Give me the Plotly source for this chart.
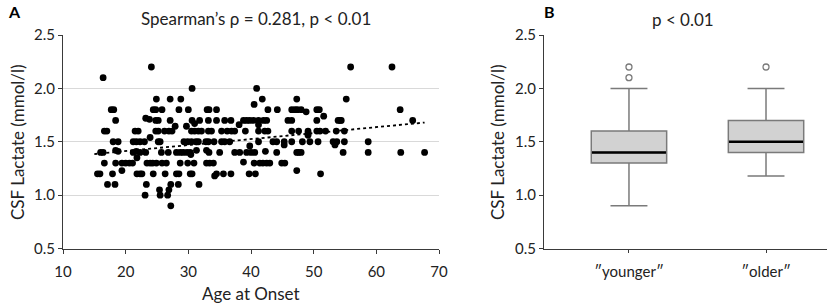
import plotly.graph_objects as go

# ---------------- Panel A data (age at onset vs CSF lactate) ----------------
rows = {
    2.2: [24.1, 55.9, 62.5],
    2.1: [16.4],
    2.0: [30.6, 40.9],
    1.9: [24.9, 27.1, 28.8, 41.8, 47.3, 55.2],
    1.85: [40.5],
    1.8: [17.7, 18.1, 24.4, 24.8, 25.8, 28.5, 30.0, 33.0, 33.3, 34.5, 42.7, 44.2,
          46.5, 47.0, 47.4, 48.0, 50.5, 50.9, 63.8],
    1.78: [48.8],
    1.74: [51.6],
    1.72: [23.2],
    1.71: [23.8],
    1.7: [18.4, 24.8, 25.2, 27.1, 30.6, 31.8, 33.2, 34.5, 35.8, 36.8, 38.8, 39.3,
          39.8, 40.4, 41.2, 42.0, 42.5, 45.9, 46.5, 50.5, 53.9, 54.2, 54.4, 65.8],
    1.67: [31.0],
    1.66: [38.1, 41.2],
    1.645: [27.9, 29.7],
    1.6: [16.6, 17.0, 21.5, 22.0, 24.8, 25.2, 26.2, 26.9, 27.4, 30.5, 31.0, 31.6,
          32.1, 33.2, 33.7, 35.3, 36.2, 36.9, 37.4, 39.1, 41.2, 42.2, 42.7, 46.5,
          47.6, 49.1, 50.5, 51.0, 51.9, 53.6, 54.9],
    1.58: [49.1],
    1.56: [49.1],
    1.54: [23.9],
    1.5: [18.0, 18.8, 21.2, 21.7, 22.3, 23.0, 25.2, 25.5, 29.3, 29.9, 30.5, 31.2,
          31.6, 32.8, 33.2, 34.1, 35.3, 35.8, 36.6, 41.2, 43.5, 44.1, 45.3, 46.5,
          48.2, 49.4, 50.7, 53.1, 53.7, 54.9, 58.7],
    1.47: [45.3, 53.4],
    1.46: [39.8],
    1.42: [18.4, 31.3, 32.9],
    1.41: [18.8, 21.7, 42.3],
    1.4: [16.0, 16.4, 21.2, 22.3, 23.2, 25.7, 26.8, 28.1, 28.7, 29.2, 29.8, 30.3,
          33.3, 35.0, 37.4, 38.2, 39.3, 40.0, 40.6, 44.1, 47.3, 47.6, 48.0, 54.7,
          58.7, 63.9, 67.7],
    1.38: [30.4],
    1.35: [21.8],
    1.31: [38.8],
    1.3: [16.6, 18.4, 19.4, 20.0, 20.6, 21.1, 23.4, 23.9, 24.3, 24.9, 25.8, 26.5,
          28.7, 29.9, 30.9, 32.9, 33.4, 34.0, 40.5, 41.4, 41.9, 42.5, 43.0, 44.9, 45.4],
    1.23: [19.4, 47.3],
    1.2: [15.5, 15.9, 17.9, 21.8, 22.3, 22.6, 24.4, 26.3, 28.1, 28.5, 30.3, 30.6,
          34.5, 35.6, 36.8, 39.7, 40.7, 51.1],
    1.18: [34.2],
    1.1: [17.1, 18.3, 23.3, 27.2, 28.4, 31.7],
    1.05: [25.4, 26.9],
    1.0: [23.1, 25.5, 26.7],
    0.9: [27.2],
}
age_at_onset = [a for v, ages in rows.items() for a in ages]
csf_lactate = [v for v, ages in rows.items() for a in ages]

trend_age = [15.0, 67.7]
trend_lactate = [1.385, 1.68]

# ---------------- Panel B data (box plot) ----------------
groups = ["\u2033younger\u2033", "\u2033older\u2033"]
group_pos = [0, 1]
q1 = [1.3, 1.4]
median = [1.4, 1.5]
q3 = [1.6, 1.7]
lower_fence = [0.9, 1.18]
upper_fence = [2.0, 2.0]
outlier_group = [0, 0, 1]
outlier_values = [2.1, 2.2, 2.2]
box_width = 0.55

y_ticks = [0.5, 1.0, 1.5, 2.0, 2.5]
x_ticks_a = [10, 20, 30, 40, 50, 60, 70]

FONT = "Lato"
AXC = "#3a3a3a"
TXT = "#222"

fig = go.Figure()

fig.add_trace(go.Scatter(
    x=age_at_onset, y=csf_lactate, mode="markers",
    marker=dict(color="black", size=6.8),
    xaxis="x", yaxis="y", showlegend=False, hoverinfo="skip"))

fig.add_trace(go.Scatter(
    x=trend_age, y=trend_lactate, mode="lines",
    line=dict(color="black", width=1.8, dash="dot"),
    xaxis="x", yaxis="y", showlegend=False, hoverinfo="skip"))

fig.add_trace(go.Box(
    x=group_pos, q1=q1, median=median, q3=q3,
    lowerfence=lower_fence, upperfence=upper_fence,
    width=box_width, whiskerwidth=0.49,
    fillcolor="#d2d2d2", line=dict(color="#7a7a7a", width=1.5),
    boxpoints=False, xaxis="x2", yaxis="y2", showlegend=False, hoverinfo="skip"))

for p, m in zip(group_pos, median):
    fig.add_trace(go.Scatter(
        x=[p - box_width / 2 + 0.005, p + box_width / 2 - 0.005], y=[m, m],
        mode="lines", line=dict(color="black", width=2.5),
        xaxis="x2", yaxis="y2", showlegend=False, hoverinfo="skip"))

fig.add_trace(go.Scatter(
    x=outlier_group, y=outlier_values, mode="markers",
    marker=dict(symbol="circle-open", color="#7a7a7a", size=6, line=dict(width=1.3)),
    xaxis="x2", yaxis="y2", showlegend=False, hoverinfo="skip"))

W, H = 829, 305
ydom = [(H - 248.5) / H, (H - 35) / H]

common_y = dict(range=[0.5, 2.5], tickvals=y_ticks, ticktext=[f"{t:.1f}" for t in y_ticks],
                showline=True, linecolor=AXC, linewidth=1, ticks="outside", ticklen=4,
                tickcolor=AXC, tickfont=dict(family=FONT, size=15, color=TXT),
                zeroline=False, domain=ydom, automargin=False)


def ann(text, x, y, size=17, bold=False, angle=0):
    return dict(text=f"<b>{text}</b>" if bold else text, x=x / W, y=1 - y / H,
                xref="paper", yref="paper", xanchor="center", yanchor="middle",
                showarrow=False, textangle=angle,
                font=dict(family=FONT, size=size, color="black" if bold else TXT))


fig.update_layout(
    width=W, height=H, margin=dict(l=0, r=0, t=0, b=0, autoexpand=False),
    paper_bgcolor="white", plot_bgcolor="white",
    font=dict(family=FONT, color=TXT),
    xaxis=dict(domain=[63 / W, 439 / W], range=[10, 70], tickvals=x_ticks_a,
               showline=True, linecolor=AXC, linewidth=1, ticks="outside", ticklen=4,
               tickcolor=AXC, showgrid=False, zeroline=False, ticklabelstandoff=5,
               automargin=False,
               tickfont=dict(family=FONT, size=15, color=TXT), anchor="y"),
    yaxis=dict(**common_y, showgrid=True, gridcolor="#d9d9d9", gridwidth=1.2, anchor="x"),
    xaxis2=dict(domain=[544 / W, 827 / W], range=[-0.62, 1.445], tickvals=group_pos,
                ticktext=groups, showline=True, linecolor=AXC, linewidth=1,
                ticks="outside", ticklen=3, tickcolor=AXC, showgrid=False, zeroline=False,
                ticklabelstandoff=6, automargin=False,
                tickfont=dict(family=FONT, size=15, color=TXT), anchor="y2"),
    yaxis2=dict(**common_y, showgrid=False, anchor="x2"),
    annotations=[
        ann("A", 14, 12, size=16, bold=True),
        ann("B", 549, 12, size=16, bold=True),
        ann("Spearman\u2019s \u03c1 = 0.281, p < 0.01", 256, 18),
        ann("p < 0.01", 683, 20),
        ann("Age at Onset", 251, 293),
        ann("CSF Lactate (mmol/l)", 17, 142, angle=-90),
        ann("CSF Lactate (mmol/l)", 497, 142, angle=-90),
    ],
)

fig.write_html("out.html", config={"displayModeBar": False},
               post_script="document.body.style.margin='0';document.body.style.overflow='hidden';")
